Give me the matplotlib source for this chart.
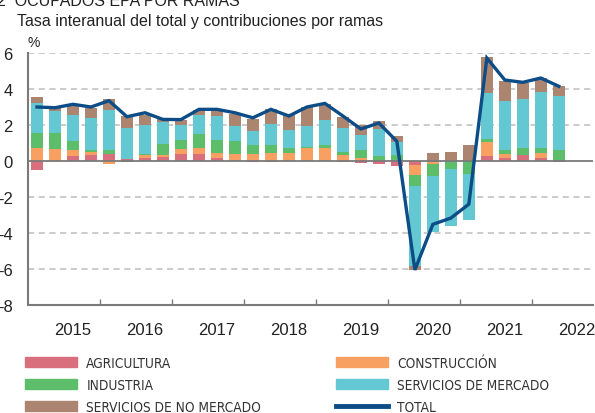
import numpy as np
import matplotlib
matplotlib.use("Agg")
import matplotlib.pyplot as plt
from matplotlib.patches import Patch
from matplotlib.lines import Line2D
from matplotlib.font_manager import FontProperties

plt.rcParams["font.family"] = ["Liberation Sans", "DejaVu Sans"]

# -----------------------------
# Data: quarterly contributions, 2015Q1 .. 2022Q2
# -----------------------------
years = ["2015", "2016", "2017", "2018", "2019", "2020", "2021", "2022"]

agricultura = [-0.52, 0.00, 0.26, 0.31, 0.37, 0.13, 0.19, 0.20, 0.37, 0.41,
               0.15, 0.00, -0.07, -0.05, 0.00, 0.00, 0.00, -0.05, -0.10, -0.15,
               -0.28, -0.20, -0.04, 0.00, 0.00, 0.26, 0.15, 0.31, 0.15, -0.05]
construccion = [0.72, 0.67, 0.35, 0.19, -0.15, 0.00, 0.13, 0.11, 0.31, 0.33,
                0.30, 0.37, 0.39, 0.43, 0.46, 0.74, 0.74, 0.31, 0.18, 0.00,
                0.00, -0.57, -0.15, 0.00, 0.00, 0.80, 0.22, 0.04, 0.30, 0.02]
industria = [0.81, 0.87, 0.50, 0.11, 0.22, -0.05, 0.07, 0.65, 0.46, 0.74,
             0.74, 0.72, 0.52, 0.44, 0.28, 0.03, 0.13, 0.20, 0.43, 0.30,
             0.33, -0.61, -0.63, -0.43, -0.70, 0.17, 0.22, 0.37, 0.26, 0.60]
serv_mercado = [1.70, 1.26, 1.46, 1.78, 2.26, 1.72, 1.63, 1.20, 0.87, 1.06,
                1.33, 0.85, 0.74, 1.19, 1.00, 1.20, 1.43, 1.30, 0.85, 1.46,
                0.74, -4.44, -3.13, -3.19, -2.57, 2.56, 2.76, 2.72, 3.15, 2.98]
serv_no_mercado = [0.30, 0.20, 0.59, 0.56, 0.61, 0.63, 0.56, 0.19, 0.28, 0.31,
                   0.37, 0.69, 0.70, 0.85, 0.83, 1.04, 0.87, 0.63, 0.52, 0.48,
                   0.30, -0.24, 0.44, 0.50, 0.91, 1.98, 1.11, 0.91, 0.76, 0.56]
total = [3.00, 2.96, 3.15, 3.00, 3.35, 2.46, 2.68, 2.31, 2.30, 2.87,
         2.87, 2.68, 2.40, 2.87, 2.50, 3.00, 3.20, 2.50, 1.78, 2.11,
         1.09, -6.05, -3.52, -3.17, -2.40, 5.72, 4.50, 4.37, 4.61, 4.15]

series = [
    ("AGRICULTURA", agricultura, "#D96F7D"),
    ("CONSTRUCCIÓN", construccion, "#F7A062"),
    ("INDUSTRIA", industria, "#5CBD6A"),
    ("SERVICIOS DE MERCADO", serv_mercado, "#63C8D1"),
    ("SERVICIOS DE NO MERCADO", serv_no_mercado, "#AC8571"),
]
total_color = "#0C4C87"

# -----------------------------
# Figure
# -----------------------------
W, H = 595, 414
fig = plt.figure(figsize=(W / 100, H / 100), dpi=100)
ax = fig.add_axes([28 / W, (H - 306) / H, 565 / W, 252 / H])

x = np.arange(len(total))
pos_bottom = np.zeros(len(x))
neg_bottom = np.zeros(len(x))
for name, vals, col in series:
    v = np.array(vals)
    bottom = np.where(v >= 0, pos_bottom, neg_bottom)
    ax.bar(x, v, bottom=bottom, width=0.67, color=col, edgecolor="none", zorder=2)
    pos_bottom += np.clip(v, 0, None)
    neg_bottom += np.clip(v, None, 0)

ax.axhline(0, color="#7a7a7a", lw=1.3, zorder=3)
ax.plot(x, total, color=total_color, lw=2.4, zorder=4, solid_joinstyle="miter")

# grid
for g in [6, 4, 2, -2, -4, -6]:
    ax.axhline(g, color="#bdbdbd", lw=1.1, ls=(0, (4, 3)), zorder=1)

ax.set_xlim(-0.5, 30.9)
ax.set_ylim(-8, 6)
ax.set_yticks(np.arange(-8, 7, 2))
ax.set_yticklabels([str(v) for v in range(-8, 7, 2)])

# year ticks at boundaries, labels as minor ticks
ax.set_xticks(np.arange(3.5, 30, 4))
ax.set_xticklabels([])
ax.set_xticks(np.arange(2, 32, 4), minor=True)
ax.set_xticklabels(years, minor=True)
ax.tick_params(axis="x", which="major", direction="in", length=4, width=1, color="#7a7a7a")
ax.tick_params(axis="x", which="minor", length=0, pad=12, labelsize=12, labelcolor="#222222")
ax.tick_params(axis="y", length=0, pad=11, labelsize=12, labelcolor="#222222")

for s in ["top", "right"]:
    ax.spines[s].set_visible(False)
for s in ["left", "bottom"]:
    ax.spines[s].set_color("#7a7a7a")
    ax.spines[s].set_linewidth(1.5)

# texts
fig.text(-3 / W, 1 - 6 / H, "2  OCUPADOS EPA POR RAMAS", fontsize=11.5, color="#222222", va="baseline")
fig.text(17 / W, 1 - 26 / H, "Tasa interanual del total y contribuciones por ramas",
         fontsize=11.5, color="#222222", va="baseline")
fig.text(27 / W, 1 - 47 / H, "%", fontsize=10, color="#222222", va="baseline")

# legends
leg_font = FontProperties(family="DejaVu Sans", stretch="condensed", size=9.8)
left_items = [Patch(color=series[i][2], label=series[i][0]) for i in (0, 2, 4)]
right_items = [Patch(color=series[i][2], label=series[i][0]) for i in (1, 3)]
right_items.append(Line2D([0], [0], color=total_color, lw=3.5, label="TOTAL"))

for items, x0 in [(left_items, 25), (right_items, 336)]:
    leg = fig.legend(handles=items, loc="upper left", bbox_to_anchor=(x0 / W, 1 - 357 / H),
                     frameon=False, prop=leg_font, handlelength=3.85, handleheight=0.7,
                     handletextpad=0.65, labelspacing=0.58, borderpad=0, borderaxespad=0)
    for t in leg.get_texts():
        t.set_color("#333333")

fig.savefig("out.png", dpi=100)
